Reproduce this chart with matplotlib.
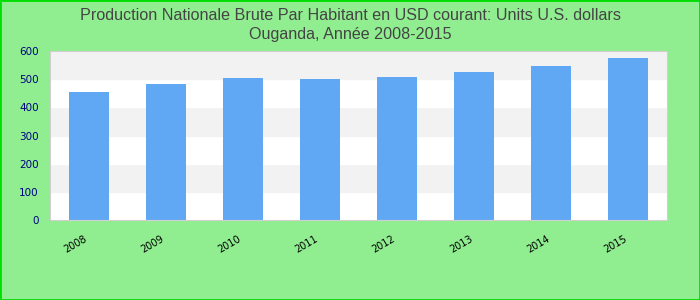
import matplotlib.pyplot as plt

annees = ['2008', '2009', '2010', '2011', '2012', '2013', '2014', '2015']
valeurs = [455, 483, 504, 500, 508, 525, 547, 575]

fig = plt.figure(figsize=(7, 3), dpi=100, facecolor='#90ee90')
fig.patches.append(plt.Rectangle((0, 0), 1, 1, transform=fig.transFigure,
                                 fill=False, edgecolor='#00dd00', linewidth=2))
ax = fig.add_axes([50 / 700, 80 / 300, 617 / 700, 169 / 300])

# bandes alternées
for y0 in range(0, 600, 100):
    ax.axhspan(y0, y0 + 100, color='#f2f2f2' if (y0 // 100) % 2 else 'white', zorder=0)

x = range(len(annees))
ax.bar(x, valeurs, width=0.52, color='#60a8f4', zorder=2)

ax.set_xlim(-0.5, len(annees) - 0.5)
ax.set_ylim(0, 600)
ax.set_yticks(range(0, 601, 100))
ax.set_xticks(list(x))
ax.set_xticklabels(annees, rotation=30, fontsize=7, ha='right')
ax.tick_params(axis='y', labelsize=7.5, labelcolor='#000080', length=0, pad=8)
ax.tick_params(axis='x', length=0, pad=10)
for s in ax.spines.values():
    s.set_color('#d0d0d0')

fig.text(0.5, 0.975, 'Production Nationale Brute Par Habitant en USD courant: Units U.S. dollars\nOuganda, Année 2008-2015',
         ha='center', va='top', fontsize=11.6, color='#444444', family='Liberation Sans', linespacing=1.35)

fig.savefig('out.png', dpi=100, facecolor=fig.get_facecolor())
